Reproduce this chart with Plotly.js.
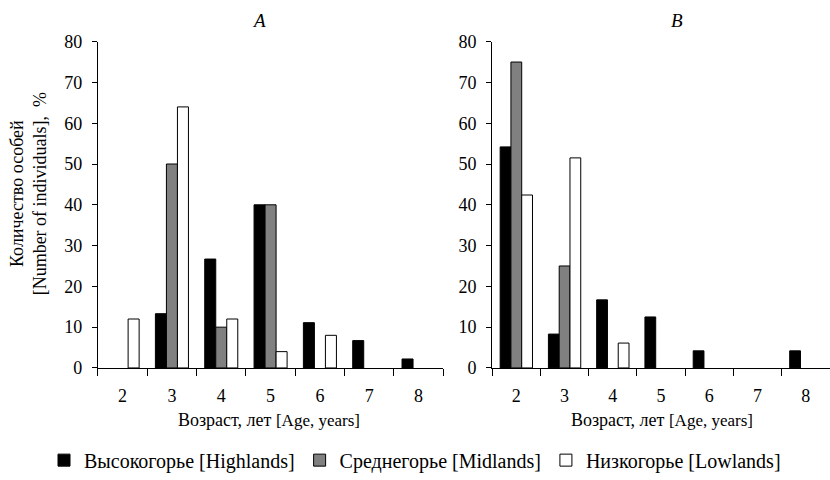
<!DOCTYPE html>
<html><head><meta charset="utf-8">
<script src="https://cdn.plot.ly/plotly-3.0.1.min.js"></script>
<style>
body{margin:0;background:#fff}
#chart{width:830px;height:480px}
</style>
</head><body><div id="chart"></div>
<script>
const ages = ["2","3","4","5","6","7","8"];
// Panel A
const highA = [0, 13.3, 26.7, 40, 11.1, 6.7, 2.2];
const midA  = [0, 50, 10, 40, 0, 0, 0];
const lowA  = [12, 64, 12, 4, 8, 0, 0];
// Panel B
const highB = [54.2, 8.3, 16.7, 12.5, 4.2, 0, 4.2];
const midB  = [75, 25, 0, 0, 0, 0, 0];
const lowB  = [42.4, 51.5, 6.1, 0, 0, 0, 0];

const seriesNames = [
  "Высокогорье [Highlands]",
  "Среднегорье [Midlands]",
  "Низкогорье [Lowlands]"
];
const colors = ["#000000", "#808080", "#ffffff"];

function bar(y, i, xa, ya, show) {
  return {type:"bar", x: ages, y: y.map(v => v === 0 ? null : v), name: seriesNames[i], xaxis: xa, yaxis: ya,
    showlegend: show, marker:{color: colors[i], line:{color:"#000", width:1}}};
}
const data = [
  bar(highA,0,"x","y",true), bar(midA,1,"x","y",true), bar(lowA,2,"x","y",true),
  bar(highB,0,"x2","y2",false), bar(midB,1,"x2","y2",false), bar(lowB,2,"x2","y2",false)
];
const F = "Liberation Serif, DejaVu Serif, serif";
const xax = (dom, anchor) => ({domain: dom, anchor: anchor, type:"category", tickson:"boundaries",
  ticks:"outside", ticklen:7, tickcolor:"#000", showline:true, linecolor:"#000", linewidth:1,
  ticklabelstandoff:11,
  showgrid:false, zeroline:false, tickfont:{family:F, size:18, color:"#000"}, fixedrange:true});
const yax = (anchor) => ({domain:[0.227, 0.9125], anchor: anchor, range:[0,80], dtick:10,
  ticks:"outside", ticklen:5, tickcolor:"#000", showline:true, linecolor:"#000", linewidth:1,
  ticklabelstandoff:6,
  showgrid:false, zeroline:false, tickfont:{family:F, size:18, color:"#000"}, fixedrange:true});
const layout = {
  width:830, height:480, margin:{l:0,r:0,t:0,b:0},
  paper_bgcolor:"#fff", plot_bgcolor:"#fff",
  barmode:"group", bargap:0.33, bargroupgap:0,
  font:{family:F, size:18, color:"#000"},
  xaxis: xax([0.118, 0.534], "y"),
  yaxis: yax("x"),
  xaxis2: xax([0.593, 1.0], "y2"),
  yaxis2: yax("x2"),
  showlegend:true,
  legend:{orientation:"h", x:0.5, xanchor:"center", y:(480-464)/480, yanchor:"middle",
    font:{family:F, size:20, color:"#000"}, itemwidth:30, traceorder:"normal"},
  annotations:[
    {text:"A", x:259, y:21, font:{family:F, size:19, style:"italic"}},
    {text:"B", x:677, y:21, font:{family:F, size:19, style:"italic"}},
    {text:"Возраст, лет <span style='font-size:17px'>[Age, years]</span>", x:269, y:424, font:{family:F, size:18}},
    {text:"Возраст, лет <span style='font-size:17px'>[Age, years]</span>", x:662, y:424, font:{family:F, size:18}},
    {text:"Количество особей<br>[Number of individuals],  %", x:28, y:196, textangle:-90, font:{family:F, size:18}}
  ]
};
layout.annotations.forEach(a => {
  a.showarrow = false;
  a.xref = "paper"; a.yref = "paper";
  a.x = a.x/830; a.y = 1 - a.y/480;
  a.xanchor = "center"; a.yanchor = "middle";
});
Plotly.newPlot("chart", data, layout, {displayModeBar:false});
</script></body></html>
